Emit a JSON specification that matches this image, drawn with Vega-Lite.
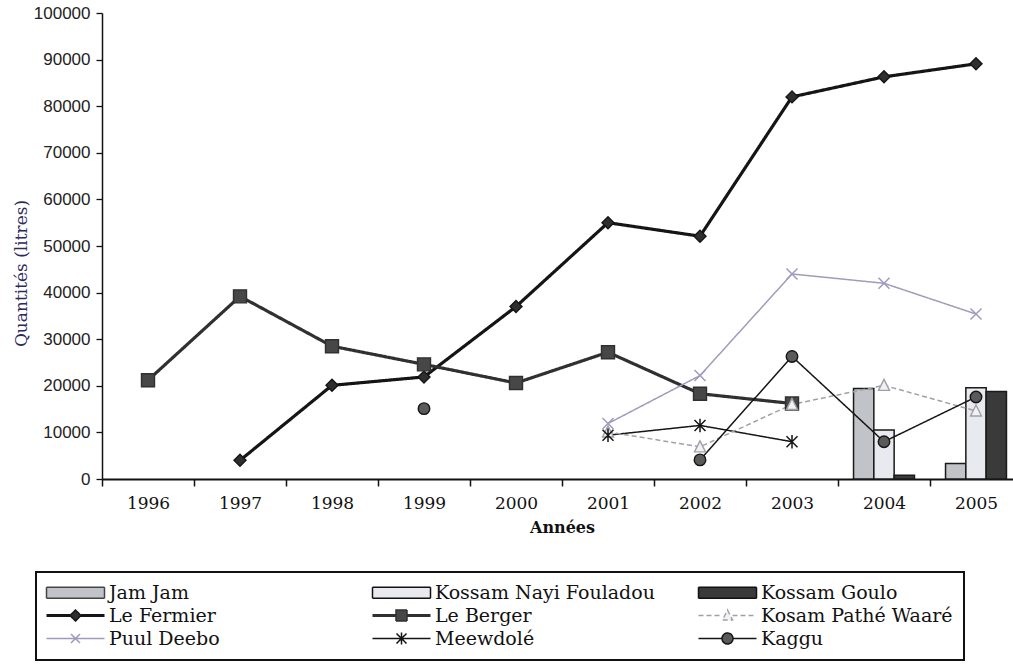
{
  "$schema": "https://vega.github.io/schema/vega-lite/v6.json",
  "autosize": {"type": "none"},
  "padding": {"left": 102, "top": 13, "right": 0, "bottom": 191},
  "width": 920,
  "height": 466,
  "background": "white",
  "config": {
    "view": {"stroke": null},
    "font": "DejaVu Serif",
    "legend": {
      "columns": 3,
      "gridAlign": "all",
      "columnPadding": 40,
      "rowPadding": 3,
      "padding": 11,
      "strokeColor": "#111111",
      "strokeWidth": 2,
      "fillColor": "#ffffff",
      "labelFont": "DejaVu Serif",
      "labelFontSize": 19,
      "labelColor": "#111111",
      "labelLimit": 400,
      "symbolSize": 100,
      "symbolStrokeWidth": 1.5,
      "symbolOpacity": 1,
      "symbolOffset": 19,
      "labelOffset": 24
    }
  },
  "data": {
    "values": [
      {"series": "Le Fermier", "year": "1997", "value": 4000},
      {"series": "Le Fermier", "year": "1998", "value": 20100},
      {"series": "Le Fermier", "year": "1999", "value": 21900},
      {"series": "Le Fermier", "year": "2000", "value": 37000},
      {"series": "Le Fermier", "year": "2001", "value": 55000},
      {"series": "Le Fermier", "year": "2002", "value": 52100},
      {"series": "Le Fermier", "year": "2003", "value": 82000},
      {"series": "Le Fermier", "year": "2004", "value": 86300},
      {"series": "Le Fermier", "year": "2005", "value": 89100},
      {"series": "Le Berger", "year": "1996", "value": 21200},
      {"series": "Le Berger", "year": "1997", "value": 39200},
      {"series": "Le Berger", "year": "1998", "value": 28500},
      {"series": "Le Berger", "year": "1999", "value": 24600},
      {"series": "Le Berger", "year": "2000", "value": 20600},
      {"series": "Le Berger", "year": "2001", "value": 27200},
      {"series": "Le Berger", "year": "2002", "value": 18300},
      {"series": "Le Berger", "year": "2003", "value": 16200},
      {"series": "Puul Deebo", "year": "2001", "value": 11900},
      {"series": "Puul Deebo", "year": "2002", "value": 22200},
      {"series": "Puul Deebo", "year": "2003", "value": 44000},
      {"series": "Puul Deebo", "year": "2004", "value": 42000},
      {"series": "Puul Deebo", "year": "2005", "value": 35400},
      {"series": "Meewdolé", "year": "2001", "value": 9400},
      {"series": "Meewdolé", "year": "2002", "value": 11500},
      {"series": "Meewdolé", "year": "2003", "value": 8000},
      {"series": "Kosam Pathé Waaré", "year": "2001", "value": 10100},
      {"series": "Kosam Pathé Waaré", "year": "2002", "value": 6900},
      {"series": "Kosam Pathé Waaré", "year": "2003", "value": 16000},
      {"series": "Kosam Pathé Waaré", "year": "2004", "value": 20100},
      {"series": "Kosam Pathé Waaré", "year": "2005", "value": 14600},
      {"series": "Kaggu", "year": "1999", "value": 15100},
      {"series": "Kaggu", "year": "2000", "value": null},
      {"series": "Kaggu", "year": "2001", "value": null},
      {"series": "Kaggu", "year": "2002", "value": 4100},
      {"series": "Kaggu", "year": "2003", "value": 26300},
      {"series": "Kaggu", "year": "2004", "value": 8000},
      {"series": "Kaggu", "year": "2005", "value": 17600},
      {"series": "Jam Jam", "year": "2004", "value": 19400},
      {"series": "Jam Jam", "year": "2005", "value": 3300},
      {"series": "Kossam Nayi Fouladou", "year": "2004", "value": 10500},
      {"series": "Kossam Nayi Fouladou", "year": "2005", "value": 19600},
      {"series": "Kossam Goulo", "year": "2004", "value": 800},
      {"series": "Kossam Goulo", "year": "2005", "value": 18800}
    ]
  },
  "encoding": {
    "x": {
      "field": "year",
      "type": "ordinal",
      "scale": {"type": "band", "domain": ["1996","1997","1998","1999","2000","2001","2002","2003","2004","2005"], "paddingInner": 0, "paddingOuter": 0},
      "axis": {
        "title": "Années",
        "titleFont": "DejaVu Serif",
        "titleFontSize": 16,
        "titleFontWeight": "bold",
        "titleColor": "#111",
        "titlePadding": 8,
        "labelAngle": 0,
        "labelFont": "DejaVu Serif",
        "labelFontSize": 17,
        "labelColor": "#111",
        "labelPadding": 9,
        "tickBand": "extent",
        "tickSize": 7,
        "tickWidth": 1.5,
        "tickColor": "#111",
        "domainColor": "#111",
        "domainWidth": 2,
        "grid": false
      }
    },
    "y": {
      "field": "value",
      "type": "quantitative",
      "scale": {"domain": [0, 100000], "nice": false},
      "axis": {
        "title": "Quantités (litres)",
        "titleFont": "DejaVu Serif",
        "titleFontSize": 17,
        "titleFontWeight": "normal",
        "titleColor": "#2e2a5a",
        "titleAngle": -90,
        "titleBaseline": "bottom",
        "titleAlign": "center",
        "titleX": -72,
        "titleY": 260,
        "values": [0, 10000, 20000, 30000, 40000, 50000, 60000, 70000, 80000, 90000, 100000],
        "format": "d",
        "labelFont": "Liberation Sans",
        "labelFontSize": 17,
        "labelColor": "#222",
        "labelPadding": 6,
        "tickSize": 6,
        "tickWidth": 1.3,
        "tickColor": "#111",
        "domainColor": "#111",
        "domainWidth": 1.5,
        "grid": false
      }
    }
  },
  "layer": [
    {
      "transform": [{"filter": {"field": "series", "oneOf": ["Jam Jam", "Kossam Nayi Fouladou", "Kossam Goulo"]}}],
      "mark": {"type": "bar", "stroke": "#1a1a1a", "strokeWidth": 1.5},
      "encoding": {
        "xOffset": {"field": "series", "type": "nominal", "scale": {"domain": ["Jam Jam", "Kossam Nayi Fouladou", "Kossam Goulo"], "paddingInner": 0, "paddingOuter": 0.765}},
        "fill": {
          "field": "series", "type": "nominal",
          "scale": {
            "domain": ["Jam Jam", "Le Fermier", "Puul Deebo", "Kossam Nayi Fouladou", "Le Berger", "Meewdolé", "Kossam Goulo", "Kosam Pathé Waaré", "Kaggu"],
            "range": ["#c2c2c9", "#2e2e2e", "transparent", "#e9e9f0", "#474747", "transparent", "#3a3a3a", "#f2f2f2", "#5a5a5a"]
          },
          "legend": {"title": null, "orient": "none", "legendX": -66, "legendY": 559}
        }
      }
    },
    {
      "transform": [{"filter": "datum.value < 0"}],
      "mark": {"type": "point", "size": 100, "opacity": 1, "strokeWidth": 1.5},
      "encoding": {
        "shape": {
          "field": "series", "type": "nominal",
          "scale": {
            "domain": ["Jam Jam", "Le Fermier", "Puul Deebo", "Kossam Nayi Fouladou", "Le Berger", "Meewdolé", "Kossam Goulo", "Kosam Pathé Waaré", "Kaggu"],
            "range": [
              "M-5.8,-1.1H5.8V1.1H-5.8Z",
              "M-5.8,-0.15H-1.1M-5.8,0.15H-1.1M1.1,-0.15H5.8M1.1,0.15H5.8M0,-1.1L1.1,0L0,1.1L-1.1,0Z",
              "M-5.8,0H5.8M-0.9,-0.9L0.9,0.9M0.9,-0.9L-0.9,0.9",
              "M-5.8,-1.1H5.8V1.1H-5.8Z",
              "M-5.8,-0.15H-1.1M-5.8,0.15H-1.1M1.1,-0.15H5.8M1.1,0.15H5.8M-1.1,-1.1H1.1V1.1H-1.1Z",
              "M-5.8,0H5.8M-1,-1L1,1M1,-1L-1,1M0,-1.2V1.2",
              "M-5.8,-1.1H5.8V1.1H-5.8Z",
              "M-5.8,0H-1M1,0H5.8M0,-1.1L1,0.9H-1Z",
              "M-5.8,0H-1.1M1.1,0H5.8M1.1,0A1.1,1.1,0,1,1,-1.1,0A1.1,1.1,0,1,1,1.1,0Z"
            ]
          },
          "legend": {"title": null, "orient": "none", "legendX": -66, "legendY": 559}
        }
      }
    },
    {
      "transform": [{"filter": {"field": "series", "oneOf": ["Le Fermier", "Le Berger"]}}],
      "mark": {"type": "line", "strokeWidth": 3.2},
      "encoding": {
        "stroke": {
          "field": "series", "type": "nominal",
          "scale": {
            "domain": ["Jam Jam", "Le Fermier", "Puul Deebo", "Kossam Nayi Fouladou", "Le Berger", "Meewdolé", "Kossam Goulo", "Kosam Pathé Waaré", "Kaggu"],
            "range": ["#444444", "#151515", "#9e9cbc", "#111111", "#303030", "#151515", "#111111", "#a0a0aa", "#151515"]
          },
          "legend": {"title": null, "orient": "none", "legendX": -66, "legendY": 559}
        },
        "strokeDash": {
          "field": "series", "type": "nominal",
          "scale": {
            "domain": ["Jam Jam", "Le Fermier", "Puul Deebo", "Kossam Nayi Fouladou", "Le Berger", "Meewdolé", "Kossam Goulo", "Kosam Pathé Waaré", "Kaggu"],
            "range": [[1, 0], [1, 0], [1, 0], [1, 0], [1, 0], [1, 0], [1, 0], [5, 3], [1, 0]]
          },
          "legend": {"title": null, "orient": "none", "legendX": -66, "legendY": 559}
        }
      }
    },
    {
      "transform": [{"filter": {"field": "series", "oneOf": ["Meewdolé", "Kaggu", "Puul Deebo", "Kosam Pathé Waaré"]}}],
      "mark": {"type": "line", "strokeWidth": 1.5, "invalid": "break-paths-show-domains"},
      "encoding": {
        "stroke": {
          "field": "series", "type": "nominal",
          "scale": {
            "domain": ["Jam Jam", "Le Fermier", "Puul Deebo", "Kossam Nayi Fouladou", "Le Berger", "Meewdolé", "Kossam Goulo", "Kosam Pathé Waaré", "Kaggu"],
            "range": ["#444444", "#151515", "#9e9cbc", "#111111", "#303030", "#151515", "#111111", "#a0a0aa", "#151515"]
          },
          "legend": {"title": null, "orient": "none", "legendX": -66, "legendY": 559}
        },
        "strokeDash": {
          "field": "series", "type": "nominal",
          "scale": {
            "domain": ["Jam Jam", "Le Fermier", "Puul Deebo", "Kossam Nayi Fouladou", "Le Berger", "Meewdolé", "Kossam Goulo", "Kosam Pathé Waaré", "Kaggu"],
            "range": [[1, 0], [1, 0], [1, 0], [1, 0], [1, 0], [1, 0], [1, 0], [5, 3], [1, 0]]
          },
          "legend": {"title": null, "orient": "none", "legendX": -66, "legendY": 559}
        }
      }
    },
    {
      "transform": [{"filter": {"field": "series", "equal": "Le Fermier"}}],
      "mark": {"type": "point", "shape": "M0,-1.2L1.2,0L0,1.2L-1.2,0Z", "size": 100, "strokeWidth": 1.4, "opacity": 1},
      "encoding": {
        "fill": {"field": "series", "type": "nominal", "legend": {"title": null, "orient": "none", "legendX": -66, "legendY": 559},
          "scale": {"domain": ["Jam Jam", "Le Fermier", "Puul Deebo", "Kossam Nayi Fouladou", "Le Berger", "Meewdolé", "Kossam Goulo", "Kosam Pathé Waaré", "Kaggu"],
            "range": ["#c2c2c9", "#2e2e2e", "transparent", "#e9e9f0", "#474747", "transparent", "#3a3a3a", "#f2f2f2", "#5a5a5a"]}},
        "stroke": {"field": "series", "type": "nominal", "legend": {"title": null, "orient": "none", "legendX": -66, "legendY": 559},
          "scale": {"domain": ["Jam Jam", "Le Fermier", "Puul Deebo", "Kossam Nayi Fouladou", "Le Berger", "Meewdolé", "Kossam Goulo", "Kosam Pathé Waaré", "Kaggu"],
            "range": ["#444444", "#151515", "#9e9cbc", "#111111", "#303030", "#151515", "#111111", "#a0a0aa", "#151515"]}}
      }
    },
    {
      "transform": [{"filter": {"field": "series", "equal": "Le Berger"}}],
      "mark": {"type": "point", "shape": "M-1.3,-1.3H1.3V1.3H-1.3Z", "size": 100, "strokeWidth": 1.4, "opacity": 1},
      "encoding": {
        "fill": {"field": "series", "type": "nominal", "legend": {"title": null, "orient": "none", "legendX": -66, "legendY": 559},
          "scale": {"domain": ["Jam Jam", "Le Fermier", "Puul Deebo", "Kossam Nayi Fouladou", "Le Berger", "Meewdolé", "Kossam Goulo", "Kosam Pathé Waaré", "Kaggu"],
            "range": ["#c2c2c9", "#2e2e2e", "transparent", "#e9e9f0", "#474747", "transparent", "#3a3a3a", "#f2f2f2", "#5a5a5a"]}},
        "stroke": {"field": "series", "type": "nominal", "legend": {"title": null, "orient": "none", "legendX": -66, "legendY": 559},
          "scale": {"domain": ["Jam Jam", "Le Fermier", "Puul Deebo", "Kossam Nayi Fouladou", "Le Berger", "Meewdolé", "Kossam Goulo", "Kosam Pathé Waaré", "Kaggu"],
            "range": ["#444444", "#151515", "#9e9cbc", "#111111", "#303030", "#151515", "#111111", "#a0a0aa", "#151515"]}}
      }
    },
    {
      "transform": [{"filter": {"field": "series", "equal": "Kosam Pathé Waaré"}}],
      "mark": {"type": "point", "shape": "M0,-1.2L1.1,1H-1.1Z", "size": 100, "strokeWidth": 1.4, "opacity": 1},
      "encoding": {
        "fill": {"field": "series", "type": "nominal", "legend": {"title": null, "orient": "none", "legendX": -66, "legendY": 559},
          "scale": {"domain": ["Jam Jam", "Le Fermier", "Puul Deebo", "Kossam Nayi Fouladou", "Le Berger", "Meewdolé", "Kossam Goulo", "Kosam Pathé Waaré", "Kaggu"],
            "range": ["#c2c2c9", "#2e2e2e", "transparent", "#e9e9f0", "#474747", "transparent", "#3a3a3a", "#f2f2f2", "#5a5a5a"]}},
        "stroke": {"field": "series", "type": "nominal", "legend": {"title": null, "orient": "none", "legendX": -66, "legendY": 559},
          "scale": {"domain": ["Jam Jam", "Le Fermier", "Puul Deebo", "Kossam Nayi Fouladou", "Le Berger", "Meewdolé", "Kossam Goulo", "Kosam Pathé Waaré", "Kaggu"],
            "range": ["#444444", "#151515", "#9e9cbc", "#111111", "#303030", "#151515", "#111111", "#a0a0aa", "#151515"]}}
      }
    },
    {
      "transform": [{"filter": {"field": "series", "equal": "Puul Deebo"}}],
      "mark": {"type": "point", "shape": "M-1.1,-1.1L1.1,1.1M1.1,-1.1L-1.1,1.1", "size": 100, "strokeWidth": 1.5, "opacity": 1},
      "encoding": {
        "fill": {"field": "series", "type": "nominal", "legend": {"title": null, "orient": "none", "legendX": -66, "legendY": 559},
          "scale": {"domain": ["Jam Jam", "Le Fermier", "Puul Deebo", "Kossam Nayi Fouladou", "Le Berger", "Meewdolé", "Kossam Goulo", "Kosam Pathé Waaré", "Kaggu"],
            "range": ["#c2c2c9", "#2e2e2e", "transparent", "#e9e9f0", "#474747", "transparent", "#3a3a3a", "#f2f2f2", "#5a5a5a"]}},
        "stroke": {"field": "series", "type": "nominal", "legend": {"title": null, "orient": "none", "legendX": -66, "legendY": 559},
          "scale": {"domain": ["Jam Jam", "Le Fermier", "Puul Deebo", "Kossam Nayi Fouladou", "Le Berger", "Meewdolé", "Kossam Goulo", "Kosam Pathé Waaré", "Kaggu"],
            "range": ["#444444", "#151515", "#9e9cbc", "#111111", "#303030", "#151515", "#111111", "#a0a0aa", "#151515"]}}
      }
    },
    {
      "transform": [{"filter": {"field": "series", "equal": "Meewdolé"}}],
      "mark": {"type": "point", "shape": "M-1.1,-1.1L1.1,1.1M1.1,-1.1L-1.1,1.1M0,-1.35V1.35", "size": 100, "strokeWidth": 1.5, "opacity": 1},
      "encoding": {
        "fill": {"field": "series", "type": "nominal", "legend": {"title": null, "orient": "none", "legendX": -66, "legendY": 559},
          "scale": {"domain": ["Jam Jam", "Le Fermier", "Puul Deebo", "Kossam Nayi Fouladou", "Le Berger", "Meewdolé", "Kossam Goulo", "Kosam Pathé Waaré", "Kaggu"],
            "range": ["#c2c2c9", "#2e2e2e", "transparent", "#e9e9f0", "#474747", "transparent", "#3a3a3a", "#f2f2f2", "#5a5a5a"]}},
        "stroke": {"field": "series", "type": "nominal", "legend": {"title": null, "orient": "none", "legendX": -66, "legendY": 559},
          "scale": {"domain": ["Jam Jam", "Le Fermier", "Puul Deebo", "Kossam Nayi Fouladou", "Le Berger", "Meewdolé", "Kossam Goulo", "Kosam Pathé Waaré", "Kaggu"],
            "range": ["#444444", "#151515", "#9e9cbc", "#111111", "#303030", "#151515", "#111111", "#a0a0aa", "#151515"]}}
      }
    },
    {
      "transform": [{"filter": {"field": "series", "equal": "Kaggu"}}],
      "mark": {"type": "point", "shape": "M1.15,0A1.15,1.15,0,1,1,-1.15,0A1.15,1.15,0,1,1,1.15,0Z", "size": 100, "strokeWidth": 1.4, "opacity": 1},
      "encoding": {
        "fill": {"field": "series", "type": "nominal", "legend": {"title": null, "orient": "none", "legendX": -66, "legendY": 559},
          "scale": {"domain": ["Jam Jam", "Le Fermier", "Puul Deebo", "Kossam Nayi Fouladou", "Le Berger", "Meewdolé", "Kossam Goulo", "Kosam Pathé Waaré", "Kaggu"],
            "range": ["#c2c2c9", "#2e2e2e", "transparent", "#e9e9f0", "#474747", "transparent", "#3a3a3a", "#f2f2f2", "#5a5a5a"]}},
        "stroke": {"field": "series", "type": "nominal", "legend": {"title": null, "orient": "none", "legendX": -66, "legendY": 559},
          "scale": {"domain": ["Jam Jam", "Le Fermier", "Puul Deebo", "Kossam Nayi Fouladou", "Le Berger", "Meewdolé", "Kossam Goulo", "Kosam Pathé Waaré", "Kaggu"],
            "range": ["#444444", "#151515", "#9e9cbc", "#111111", "#303030", "#151515", "#111111", "#a0a0aa", "#151515"]}}
      }
    }
  ]
}
